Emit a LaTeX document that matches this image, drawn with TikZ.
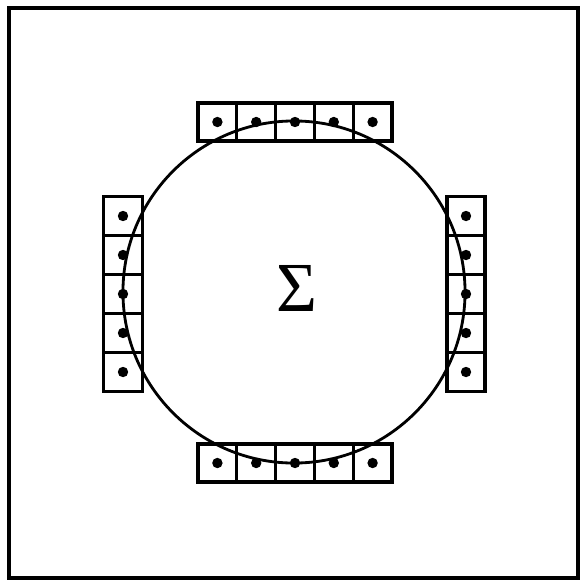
\documentclass[tikz,border=0pt]{standalone}
\usepackage{amsmath, amssymb}
\usepackage{fontspec}
\newfontfamily\sigmafont{Liberation Serif}
\usetikzlibrary{positioning}

\begin{document}
\begin{tikzpicture}[
  x=0.025cm, y=-0.025cm,
  cell/.style={draw, line width=2.2pt, minimum width=0.97cm, minimum height=0.95cm,
               inner sep=0pt, outer sep=0pt},
  dot/.style={circle, fill, inner sep=0pt, minimum size=0.26cm},
  frame/.style={line width=3.4pt}
]
  \useasboundingbox (0,0) rectangle (580,580);
  \draw[frame] (9,8) rectangle (578,578);
  % circle of the surface
  \node[circle, draw, line width=2pt, minimum size=8.55cm, inner sep=0pt] (surf) at (294,292) {};
  \node[inner sep=0pt, font=\sigmafont\fontsize{50}{52}\selectfont] (sigma) at (297,288) {Σ};
  % top and bottom rows
  \foreach \i/\x in {1/217.4, 2/256.2, 3/295, 4/333.8, 5/372.6} {
    \node[cell] (top\i) at (\x,122) {};
    \node[dot] (tdot\i) at (top\i.center) {};
    \node[cell] (bot\i) at (\x,463) {};
    \node[dot] (bdot\i) at (bot\i.center) {};
  }
  % left and right columns
  \foreach \i/\y in {1/216, 2/255, 3/294, 4/333, 5/372} {
    \node[cell, minimum width=0.98cm, minimum height=0.97cm] (lft\i) at (123,\y) {};
    \node[dot] (ldot\i) at (lft\i.center) {};
    \node[cell, minimum width=0.95cm, minimum height=0.97cm] (rgt\i) at (466,\y) {};
    \node[dot] (rdot\i) at (rgt\i.center) {};
  }
\end{tikzpicture}
\end{document}
